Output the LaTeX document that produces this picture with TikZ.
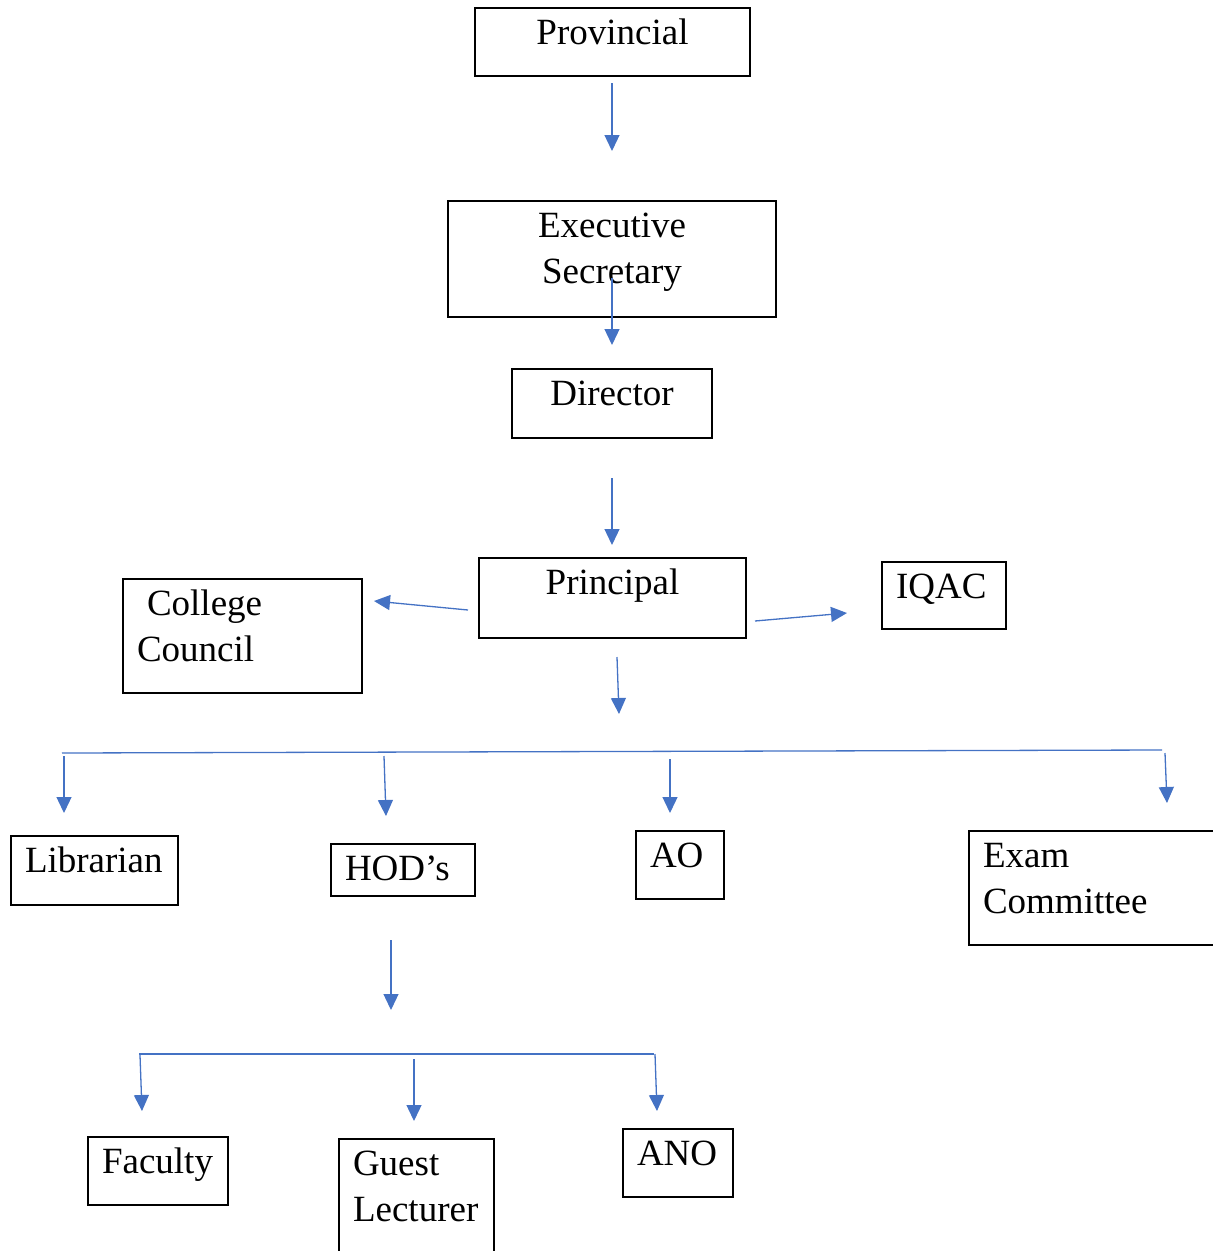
\documentclass[tikz,border=0pt]{standalone}
\usepackage{fontspec}
\setmainfont{Liberation Serif}
\usetikzlibrary{arrows.meta}
\definecolor{wordblue}{RGB}{68,114,196}
\tikzset{
  orgbox/.style={draw, line width=1.6pt, anchor=north west, outer sep=0pt,
    inner ysep=0pt, text height=36pt, font=\fontsize{37}{46}\selectfont},
  midbox/.style={orgbox, inner xsep=0pt, align=center},
  leftbox/.style={orgbox, inner xsep=14pt, align=left},
  flow/.style={draw=wordblue, line width=1.3pt, -{Triangle[length=16pt,width=15pt]}},
  bar/.style={draw=wordblue, line width=1.3pt}
}
\begin{document}
\begin{tikzpicture}[x=1pt, y=-1pt]
        \useasboundingbox (0,0) rectangle (1213,1251);

        % Top of the chart
        \node[midbox, text width=275pt, text depth=32pt] (prov) at (475,8) {Provincial};
        \node[midbox, text width=328pt, text depth=80pt] (exec) at (448,201) {Executive\\Secretary};
        \node[midbox, text width=200pt, text depth=33pt] (dir) at (512,369) {Director};
        \node[midbox, text width=267pt, text depth=44pt] (prin) at (479,558) {Principal};

        % Beside the principal
        \node[leftbox, text width=211pt, text depth=78pt] (council) at (123,579) {\hspace*{10pt}College\\Council};
        \node[leftbox, text width=96pt, text depth=31pt] (iqac) at (882,562) {IQAC};

        % Staff row
        \node[leftbox, text width=139pt, text depth=33pt] (lib) at (11,836) {Librarian};
        \node[leftbox, text width=116pt, text depth=16pt] (hod) at (331,844) {HOD’s};
        \node[leftbox, text width=60pt, text depth=32pt] (ao) at (636,831) {AO};
        \node[leftbox, text width=223pt, text depth=78pt] (exam) at (969,831) {Exam\\Committee};

        % Under the HODs
        \node[leftbox, text width=112pt, text depth=32pt] (fac) at (88,1137) {Faculty};
        \node[leftbox, text width=127pt, text depth=84pt] (guest) at (339,1139) {Guest\\Lecturer};
        \node[leftbox, text width=82pt, text depth=32pt] (ano) at (623,1129) {ANO};

        % Arrow ends (the arrows float between the boxes)
        \coordinate (prov-out) at (612,83);   \coordinate (exec-in) at (612,151);
        \coordinate (exec-out) at (612,278);  \coordinate (dir-in) at (612,345);
        \coordinate (dir-out) at (612,478);   \coordinate (prin-in) at (612,545);
        \coordinate (prin-left) at (468,610); \coordinate (council-in) at (374,601);
        \coordinate (prin-right) at (755,621);\coordinate (iqac-in) at (847,613);
        \coordinate (prin-out) at (617,657);  \coordinate (staff-in) at (619,714);

        \coordinate (staff-l) at (62,753);    \coordinate (staff-r) at (1162,750);
        \coordinate (lib-s) at (64,756);      \coordinate (lib-in) at (64,813);
        \coordinate (hod-s) at (384,756);     \coordinate (hod-in) at (386,816);
        \coordinate (ao-s) at (670,759);      \coordinate (ao-in) at (670,813);
        \coordinate (exam-s) at (1165,753);   \coordinate (exam-in) at (1167,803);

        \coordinate (hod-out) at (391,940);   \coordinate (team-in) at (391,1010);
        \coordinate (team-l) at (139,1054);   \coordinate (team-r) at (654,1054);
        \coordinate (fac-s) at (140,1055);    \coordinate (fac-in) at (142,1111);
        \coordinate (guest-s) at (414,1059);  \coordinate (guest-in) at (414,1121);
        \coordinate (ano-s) at (655,1054);    \coordinate (ano-in) at (657,1111);

        % Main chain
        \draw[flow] (prov-out) -- (exec-in);
        \draw[flow] (exec-out) -- (dir-in);
        \draw[flow] (dir-out) -- (prin-in);
        \draw[flow] (prin-left) -- (council-in);
        \draw[flow] (prin-right) -- (iqac-in);
        \draw[flow] (prin-out) -- (staff-in);

        % Staff branches
        \draw[bar] (staff-l) -- (staff-r);
        \draw[flow] (lib-s) -- (lib-in);
        \draw[flow] (hod-s) -- (hod-in);
        \draw[flow] (ao-s) -- (ao-in);
        \draw[flow] (exam-s) -- (exam-in);

        % HOD branches
        \draw[flow] (hod-out) -- (team-in);
        \draw[bar] (team-l) -- (team-r);
        \draw[flow] (fac-s) -- (fac-in);
        \draw[flow] (guest-s) -- (guest-in);
        \draw[flow] (ano-s) -- (ano-in);
\end{tikzpicture}
\end{document}
